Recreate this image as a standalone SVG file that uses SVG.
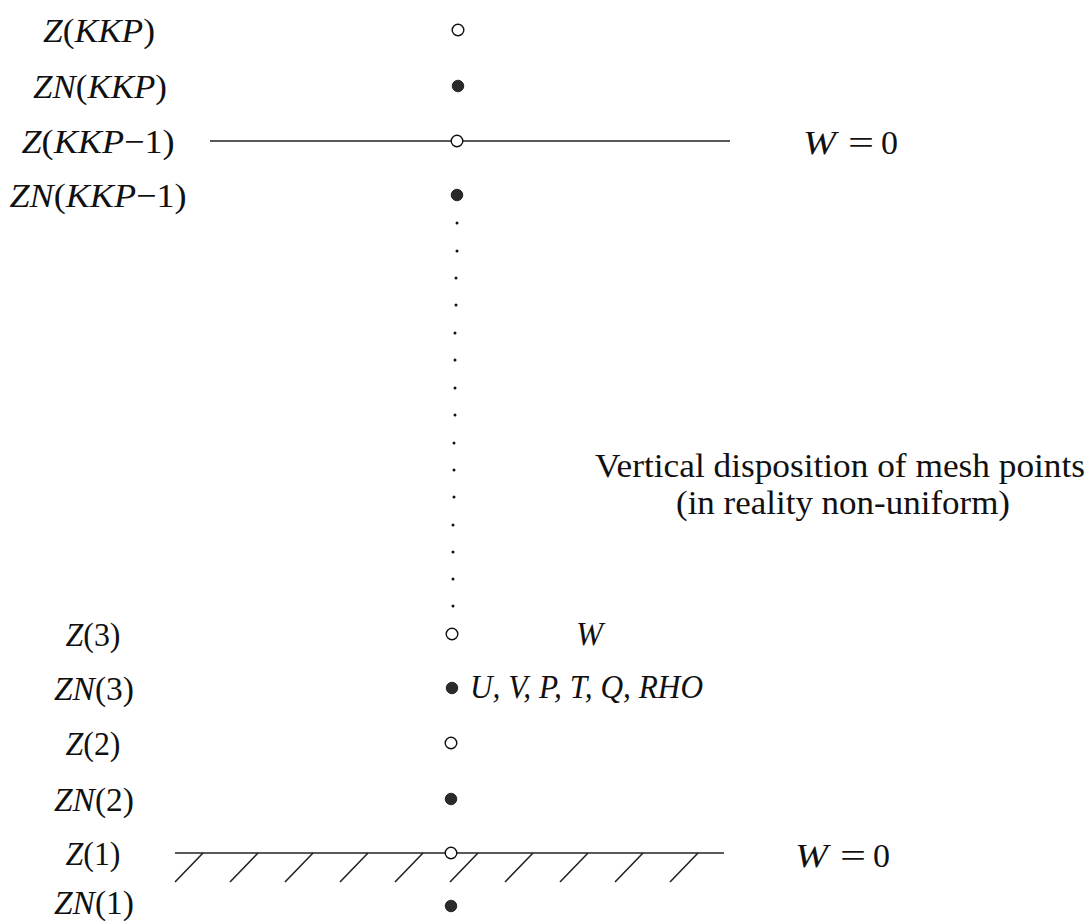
<svg xmlns="http://www.w3.org/2000/svg" width="1089" height="924" viewBox="0 0 1089 924">
<style>
.t{font-family:"Liberation Serif","DejaVu Serif",serif;font-size:34px;fill:#111}
.c{font-size:33px}
.i{font-style:italic}
.o{fill:#fff;stroke:#111;stroke-width:1.4}
.f{fill:#2a2a2a;stroke:#111;stroke-width:0.8}
.d{fill:#111}
.ln{stroke:#222;stroke-width:1.6;fill:none}
</style>
<rect width="1089" height="924" fill="#fff"/>
<g id="connectors">
<line class="ln" x1="210" y1="141" x2="730" y2="141"/>
<line class="ln" x1="175" y1="853" x2="724" y2="853"/>
<path class="ln" d="M175,882 L203,853 M230,882 L258,853 M285,882 L313,853 M340,882 L368,853 M395,882 L423,853 M450,882 L478,853 M505,882 L533,853 M560,882 L588,853 M615,882 L643,853 M670,882 L698,853"/>
</g>
<g id="dots">
<circle class="d" cx="457" cy="223" r="1.5"/>
<circle class="d" cx="457" cy="251" r="1.5"/>
<circle class="d" cx="456" cy="278" r="1.5"/>
<circle class="d" cx="456" cy="305" r="1.5"/>
<circle class="d" cx="455" cy="333" r="1.5"/>
<circle class="d" cx="455" cy="360" r="1.5"/>
<circle class="d" cx="455" cy="388" r="1.5"/>
<circle class="d" cx="455" cy="415" r="1.5"/>
<circle class="d" cx="454" cy="443" r="1.5"/>
<circle class="d" cx="454" cy="470" r="1.5"/>
<circle class="d" cx="454" cy="497" r="1.5"/>
<circle class="d" cx="453" cy="525" r="1.5"/>
<circle class="d" cx="453" cy="552" r="1.5"/>
<circle class="d" cx="453" cy="579" r="1.5"/>
<circle class="d" cx="453" cy="606" r="1.5"/>
</g>
<g id="z-kkp"><circle class="o" cx="458" cy="30" r="5.8"/><text class="t" x="99" y="42" text-anchor="middle" textLength="112" lengthAdjust="spacingAndGlyphs"><tspan class="i">Z</tspan>(<tspan class="i">KKP</tspan>)</text></g>
<g id="zn-kkp"><circle class="f" cx="458" cy="86" r="5.8"/><text class="t" x="100" y="98" text-anchor="middle" textLength="134" lengthAdjust="spacingAndGlyphs"><tspan class="i">ZN</tspan>(<tspan class="i">KKP</tspan>)</text></g>
<g id="z-kkp-1"><circle class="o" cx="457" cy="141" r="5.8"/><text class="t" x="98" y="153" text-anchor="middle" textLength="153" lengthAdjust="spacingAndGlyphs"><tspan class="i">Z</tspan>(<tspan class="i">KKP</tspan>−1)</text></g>
<g id="zn-kkp-1"><circle class="f" cx="457" cy="195" r="5.8"/><text class="t" x="98" y="207" text-anchor="middle" textLength="177" lengthAdjust="spacingAndGlyphs"><tspan class="i">ZN</tspan>(<tspan class="i">KKP</tspan>−1)</text></g>
<g id="z3"><circle class="o" cx="452" cy="634" r="5.8"/><text class="t" x="93" y="646" text-anchor="middle" textLength="55" lengthAdjust="spacingAndGlyphs"><tspan class="i">Z</tspan>(3)</text></g>
<g id="zn3"><circle class="f" cx="452" cy="688" r="5.8"/><text class="t" x="94" y="700" text-anchor="middle" textLength="80" lengthAdjust="spacingAndGlyphs"><tspan class="i">ZN</tspan>(3)</text></g>
<g id="z2"><circle class="o" cx="451" cy="743" r="5.8"/><text class="t" x="93" y="755" text-anchor="middle" textLength="55" lengthAdjust="spacingAndGlyphs"><tspan class="i">Z</tspan>(2)</text></g>
<g id="zn2"><circle class="f" cx="451" cy="799" r="5.8"/><text class="t" x="94" y="811" text-anchor="middle" textLength="80" lengthAdjust="spacingAndGlyphs"><tspan class="i">ZN</tspan>(2)</text></g>
<g id="z1"><circle class="o" cx="451" cy="853" r="5.8"/><text class="t" x="93" y="865" text-anchor="middle" textLength="55" lengthAdjust="spacingAndGlyphs"><tspan class="i">Z</tspan>(1)</text></g>
<g id="zn1"><circle class="f" cx="451" cy="906" r="5.8"/><text class="t" x="94" y="914" text-anchor="middle" textLength="80" lengthAdjust="spacingAndGlyphs"><tspan class="i">ZN</tspan>(1)</text></g>
<g id="w0-top"><text class="t" y="154"><tspan class="i" x="803" textLength="33" lengthAdjust="spacingAndGlyphs">W</tspan><tspan x="848" textLength="26" lengthAdjust="spacingAndGlyphs">=</tspan><tspan x="881">0</tspan></text></g>
<g id="w0-bottom"><text class="t" y="867"><tspan class="i" x="795" textLength="33" lengthAdjust="spacingAndGlyphs">W</tspan><tspan x="840" textLength="26" lengthAdjust="spacingAndGlyphs">=</tspan><tspan x="873">0</tspan></text></g>
<g id="w-label"><text class="t i" x="576" y="645" textLength="27" lengthAdjust="spacingAndGlyphs">W</text></g>
<g id="vars-label"><text class="t i" x="470" y="698" textLength="233" lengthAdjust="spacingAndGlyphs">U, V, P, T, Q, RHO</text></g>
<g id="caption">
<text class="t c" x="595" y="477" textLength="490" lengthAdjust="spacingAndGlyphs">Vertical disposition of mesh points</text>
<text class="t c" x="676" y="514" textLength="334" lengthAdjust="spacingAndGlyphs">(in reality non-uniform)</text>
</g>
</svg>
